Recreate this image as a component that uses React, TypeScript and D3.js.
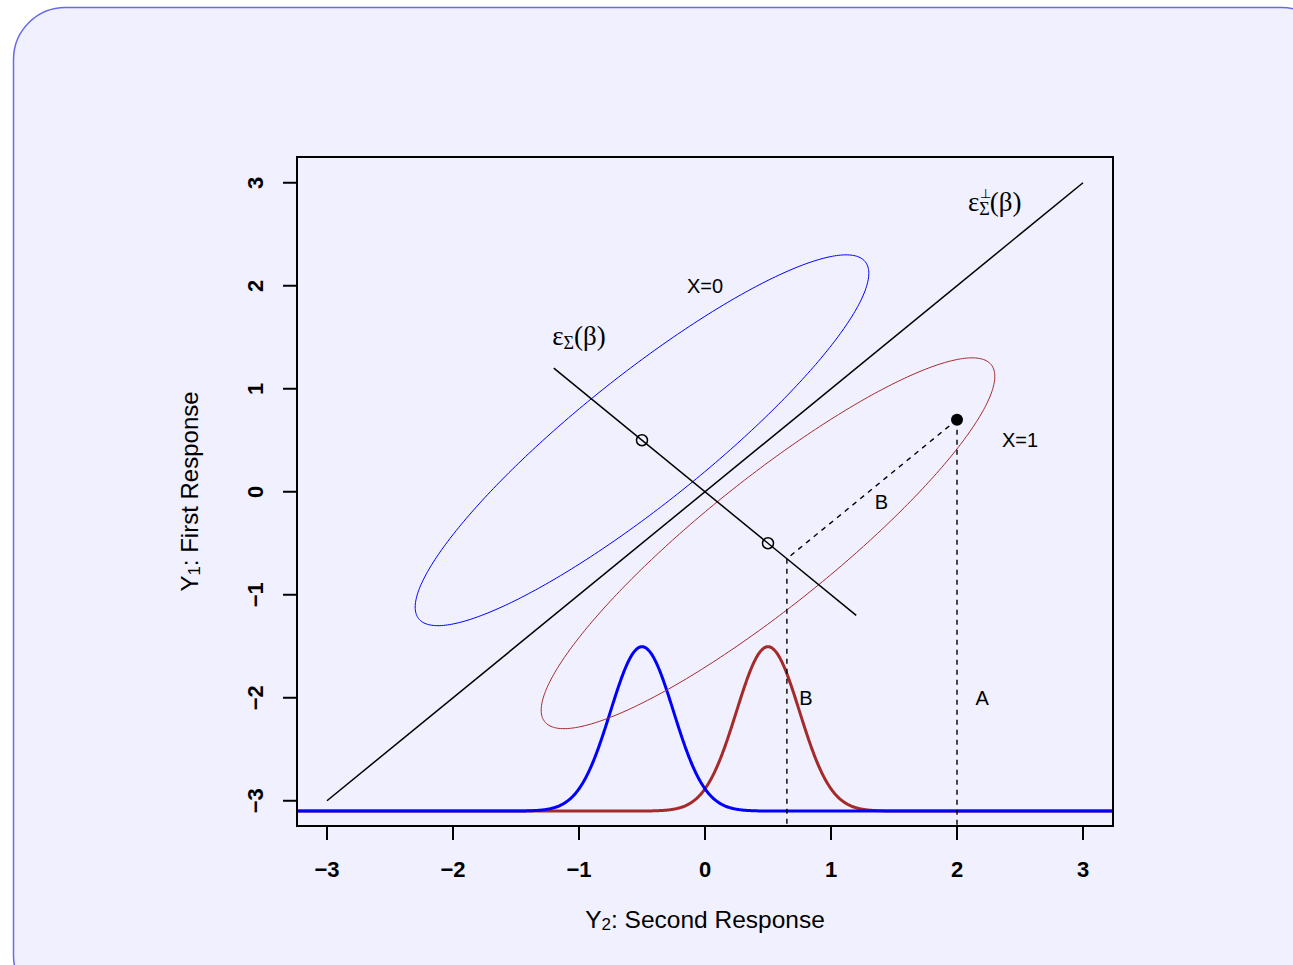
import React from "react";
import * as d3 from "d3";

// ---- data ----
const xTicks = [-3, -2, -1, 0, 1, 2, 3];
const yTicks = [-3, -2, -1, 0, 1, 2, 3];
const groupNames = ["X=0", "X=1"];
const groupColors = ["#0000ff", "#a52a2a"];
const groupCenters: [number, number][] = [[-0.5, 0.5], [0.5, -0.5]];
const ellipseHalfExtent = [1.8, 1.8];
const ellipseRho = [0.9, 0.9];
const densityMeans = [-0.5, 0.5];
const densitySd = [0.25, 0.25];
const densityBase = -3.1;
const diagLine: [number, number][] = [[-3, -3], [3, 3]];
const perpLine: [number, number][] = [[-1.2, 1.2], [1.2, -1.2]];
const obsPoint: [number, number] = [2, 0.7];
const projPoint: [number, number] = [0.65, -0.65];
const groupLabelPos: [number, number][] = [[0, 2], [2.5, 0.5]];
const letterLabels = [
  { t: "B", x: 1.4, y: -0.1 },
  { t: "B", x: 0.8, y: -2 },
  { t: "A", x: 2.2, y: -2 },
];

const W = 1293, H = 965;
const L = 297, R = 1113, T = 157, B = 826;

export default function App() {
  const x = d3.scaleLinear().domain([-3.238, 3.238]).range([L, R]);
  const y = d3.scaleLinear().domain([-3.245, 3.25]).range([B, T]);
  const lineOpen = d3.line<[number, number]>().x(d => x(d[0])).y(d => y(d[1]));
  const lineClosed = d3.line<[number, number]>().x(d => x(d[0])).y(d => y(d[1])).curve(d3.curveLinearClosed);

  const ellipses = groupCenters.map((c, i) => {
    const s = ellipseHalfExtent[i];
    const dd = Math.acos(ellipseRho[i]);
    const pts: [number, number][] = d3.range(0, 360).map(k => {
      const a = (k / 360) * 2 * Math.PI;
      return [c[0] + s * Math.cos(a + dd / 2), c[1] + s * Math.cos(a - dd / 2)];
    });
    return lineClosed(pts);
  });

  const densities = densityMeans.map((m, i) => {
    const sd = densitySd[i];
    const pts: [number, number][] = d3.range(-3.5, 3.5001, 0.005).map(v => [
      v,
      densityBase + Math.exp(-0.5 * ((v - m) / sd) ** 2) / (sd * Math.sqrt(2 * Math.PI)),
    ]);
    return lineOpen(pts);
  });
  const densityOrder = [1, 0];

  const font = "'Liberation Sans', Arial, Helvetica, sans-serif";
  const serif = "'Liberation Serif', 'Times New Roman', serif";
  const fmt = (t: number) => (t < 0 ? "\u2212" + Math.abs(t) : String(t));

  const eps2x = x(2.3), eps2y = y(2.8) + 8;

  return (
    <svg width={W} height={H} style={{ display: "block", position: "absolute", left: 0, top: 0 }}>
      <rect x={13.5} y={7.5} width={1320} height={1000} rx={52} ry={52} fill="#f0f0ff" stroke="#6a6ae6" strokeWidth={1.5} />
      <defs>
        <clipPath id="plotclip">
          <rect x={L} y={T} width={R - L} height={B - T} />
        </clipPath>
      </defs>
      <g clipPath="url(#plotclip)">
        {densityOrder.map(i => (
          <path key={"d" + i} d={densities[i] || ""} fill="none" stroke={groupColors[i]} strokeWidth={3} />
        ))}
        {ellipses.map((p, i) => (
          <path key={"e" + i} d={p || ""} fill="none" stroke={groupColors[i]} strokeWidth={1} />
        ))}
        <path d={lineOpen(diagLine) || ""} stroke="#000" strokeWidth={1.5} fill="none" />
        <path d={lineOpen(perpLine) || ""} stroke="#000" strokeWidth={1.5} fill="none" />
        <path d={lineOpen([obsPoint, projPoint]) || ""} stroke="#000" strokeWidth={1.4} strokeDasharray="5,5" fill="none" />
        <path d={lineOpen([projPoint, [projPoint[0], -3.6]]) || ""} stroke="#000" strokeWidth={1.4} strokeDasharray="5,5" fill="none" />
        <path d={lineOpen([obsPoint, [obsPoint[0], -3.6]]) || ""} stroke="#000" strokeWidth={1.4} strokeDasharray="5,5" fill="none" />
        {groupCenters.map((c, i) => (
          <circle key={"c" + i} cx={x(c[0])} cy={y(c[1])} r={5.5} fill="none" stroke="#000" strokeWidth={1.5} />
        ))}
        <circle cx={x(obsPoint[0])} cy={y(obsPoint[1])} r={6} fill="#000" />
      </g>
      {/* box */}
      <rect x={L} y={T} width={R - L} height={B - T} fill="none" stroke="#000" strokeWidth={2} />
      {/* x axis */}
      {xTicks.map(t => (
        <g key={"xt" + t}>
          <line x1={x(t)} x2={x(t)} y1={B} y2={B + 14} stroke="#000" strokeWidth={2} />
          <text x={x(t)} y={869} textAnchor="middle" dominantBaseline="central" fontFamily={font} fontWeight="bold" fontSize={22}>
            {fmt(t)}
          </text>
        </g>
      ))}
      {yTicks.map(t => (
        <g key={"yt" + t}>
          <line x1={L - 14} x2={L} y1={y(t)} y2={y(t)} stroke="#000" strokeWidth={2} />
          <text transform={`translate(255,${y(t)}) rotate(-90)`} textAnchor="middle" dominantBaseline="central" fontFamily={font} fontWeight="bold" fontSize={22}>
            {fmt(t)}
          </text>
        </g>
      ))}
      {/* axis titles */}
      <text x={(L + R) / 2} y={919} textAnchor="middle" dominantBaseline="central" fontFamily={font} fontSize={24.5}>
        Y<tspan fontSize={17} dy={5}>2</tspan><tspan dy={-5}>: Second Response</tspan>
      </text>
      <text transform={`translate(189,${(T + B) / 2}) rotate(-90)`} textAnchor="middle" dominantBaseline="central" fontFamily={font} fontSize={24}>
        Y<tspan fontSize={17} dy={5}>1</tspan><tspan dy={-5}>: First Response</tspan>
      </text>
      {/* labels */}
      {groupNames.map((n, i) => (
        <text key={"gl" + i} x={x(groupLabelPos[i][0])} y={y(groupLabelPos[i][1])} textAnchor="middle" dominantBaseline="central" fontFamily={font} fontSize={20}>
          {n}
        </text>
      ))}
      {letterLabels.map((l, i) => (
        <text key={"ll" + i} x={x(l.x)} y={y(l.y)} textAnchor="middle" dominantBaseline="central" fontFamily={font} fontSize={20}>
          {l.t}
        </text>
      ))}
      <text x={x(-1)} y={y(1.5) + 8} textAnchor="middle" fontFamily={serif} fontSize={27}>
        ε<tspan fontSize={18} dy={4}>Σ</tspan><tspan dy={-4}>(β)</tspan>
      </text>
      <text x={eps2x} y={eps2y} textAnchor="middle" fontFamily={serif} fontSize={27}>
        ε<tspan fontSize={18} dy={4}>Σ</tspan><tspan dy={-4}>(β)</tspan>
      </text>
      <text x={eps2x - 9} y={eps2y - 13} textAnchor="middle" fontFamily={serif} fontSize={13}>⊥</text>
    </svg>
  );
}
